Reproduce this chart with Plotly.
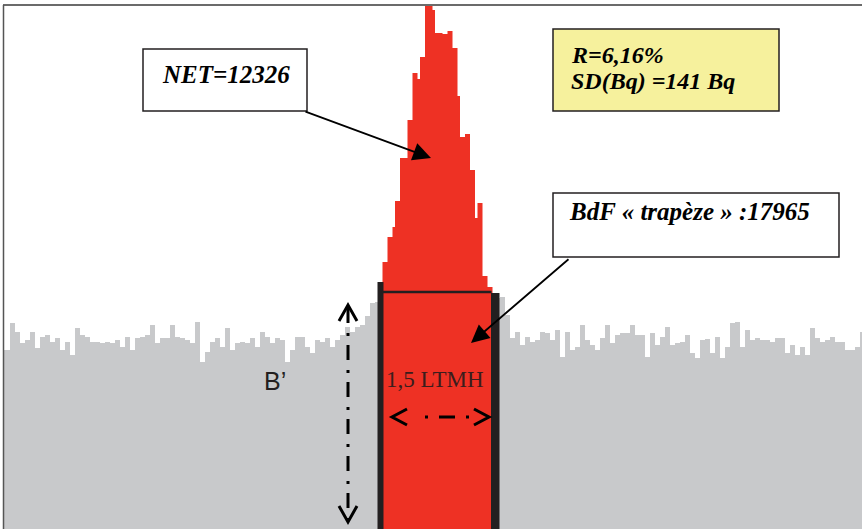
import plotly.graph_objects as go

# ---------------- data (counts per channel, arbitrary units) ----------------
# background spectrum, one value per channel (channels 0..172)
grey_left = [179, 179, 206, 197, 186, 189, 197, 181, 192, 194, 187, 191, 179, 187, 174, 201,
             194, 192, 187, 187, 186, 187, 186, 189, 182, 192, 179, 191, 192, 194, 204, 186,
             191, 191, 204, 192, 191, 189, 186, 207, 167, 177, 187, 191, 182, 201, 179, 186,
             187, 186, 191, 182, 197, 192, 186, 191, 189, 167, 179, 192, 192, 182, 176, 189,
             187, 191, 182, 189, 194, 202, 197, 202, 204, 213, 226, 227]
grey_under_peak = [228, 229, 230, 231, 232, 233, 234, 235, 236, 237, 238, 239,
                   239, 238, 237, 236, 235, 234, 233, 232, 231, 230, 230, 231]
grey_right = [232, 214, 191, 197, 184, 192, 187, 189, 197, 196, 189, 199, 172, 197, 179, 182,
              204, 189, 184, 179, 191, 204, 186, 194, 196, 196, 204, 194, 194, 172, 196, 184,
              192, 202, 184, 186, 187, 194, 176, 171, 189, 190, 176, 192, 171, 182, 206, 207,
              182, 199, 189, 191, 189, 189, 187, 191, 191, 176, 184, 174, 182, 174, 201, 191,
              187, 189, 192, 187, 187, 179, 179, 182, 197]
grey_counts = grey_left + grey_under_peak + grey_right

# net peak, half-channel bins starting at channel 76.5
peak_start = 76.5
peak_bin = 0.5
peak_counts = [267, 267, 292, 292, 302, 328, 328, 371, 371, 371, 409, 409, 456, 456, 450, 472,
               472, 523, 523, 523, 519, 496, 496, 496, 495, 495, 498, 498, 481, 481, 433, 392,
               392, 395, 395, 359, 359, 311, 326, 326, 253, 253, 242, 242]

# ROI limits (trapezoid background edges)
roi_left_ch, roi_left_h = 76.1, 247
roi_right_ch, roi_right_h = 99.05, 236
trapeze_level = 237

n_total = 172.4
W, H = 862, 529

GREY = "#c8c9cb"
RED = "#ee3124"
BLACK = "#231f20"


def X(px):
    return px / W


def Y(py):
    return 1 - py / H


fig = go.Figure()

# background
edges = list(range(len(grey_counts) + 1))
fig.add_trace(go.Scatter(x=edges, y=grey_counts + [grey_counts[-1]], mode="lines",
                         line=dict(width=0, shape="hv"), fill="tozeroy",
                         fillcolor=GREY, hoverinfo="skip"))
# peak
pedges = [peak_start + peak_bin * i for i in range(len(peak_counts) + 1)]
fig.add_trace(go.Scatter(x=pedges, y=peak_counts + [peak_counts[-1]], mode="lines",
                         line=dict(width=0, shape="hv"), fill="tozeroy",
                         fillcolor=RED, hoverinfo="skip"))
# ROI edges
for c, h, w in [(roi_left_ch, roi_left_h, 1.2), (roi_right_ch, roi_right_h, 1.7)]:
    fig.add_trace(go.Scatter(x=[c - w / 2, c + w / 2], y=[h, h], mode="lines",
                             line=dict(width=0), fill="tozeroy", fillcolor=BLACK,
                             hoverinfo="skip"))
# trapezoid top line
fig.add_trace(go.Scatter(x=[roi_left_ch + 0.25, roi_right_ch - 0.75],
                         y=[trapeze_level, trapeze_level], mode="lines",
                         line=dict(width=2.5, color=BLACK), hoverinfo="skip"))

shapes = []
# frame
shapes.append(dict(type="rect", xref="paper", yref="paper", x0=0, x1=X(3), y0=0, y1=1,
                   fillcolor="white", line=dict(width=0)))
shapes.append(dict(type="line", xref="paper", yref="paper", x0=X(3), x1=1, y0=Y(5), y1=Y(5),
                   line=dict(color="#3a3a3a", width=1.5)))
shapes.append(dict(type="line", xref="paper", yref="paper", x0=X(3.5), x1=X(3.5), y0=Y(5), y1=0,
                   line=dict(color="#555555", width=1.5)))
# boxes
for (x0, y0, x1, y1, fc) in [(143, 49, 307, 111, "white"),
                             (553, 29, 779, 111, "#f6f19d"),
                             (553, 193, 839, 257, "white")]:
    shapes.append(dict(type="rect", xref="paper", yref="paper", x0=X(x0), x1=X(x1),
                       y0=Y(y1), y1=Y(y0), fillcolor=fc, line=dict(color=BLACK, width=1.5)))

# dash-dot double arrows
shapes.append(dict(type="line", xref="paper", yref="paper", x0=X(348), x1=X(348),
                   y0=Y(308), y1=Y(520), line=dict(color="black", width=3,
                                                   dash="15px,10px,3px,9px")))
shapes.append(dict(type="line", xref="paper", yref="paper", x0=X(425), x1=X(470),
                   y0=Y(417), y1=Y(417), line=dict(color="black", width=3,
                                                   dash="3px,11px,16px,11px")))
# chevrons


def chevron(points):
    d = "M " + " L ".join(f"{X(a)} {Y(b)}" for a, b in points)
    return dict(type="path", xref="paper", yref="paper", path=d,
                line=dict(color="black", width=3))


shapes.append(chevron([(339, 321), (348, 305), (357, 321)]))
shapes.append(chevron([(339, 506), (348, 522), (357, 506)]))
shapes.append(chevron([(407, 409), (392, 417), (407, 425)]))
shapes.append(chevron([(474, 409), (489, 417), (474, 425)]))

ann = []
serif = "Liberation Serif"
ann.append(dict(xref="paper", yref="paper", x=X(160), y=Y(74), xanchor="left", yanchor="middle",
                text="<b><i>NET=12326</i></b>", showarrow=False,
                font=dict(family=serif, size=25, color="black")))
ann.append(dict(xref="paper", yref="paper", x=X(569), y=Y(55), xanchor="left", yanchor="middle",
                text="<b><i>R=6,16%</i></b>", showarrow=False,
                font=dict(family=serif, size=24, color="black")))
ann.append(dict(xref="paper", yref="paper", x=X(569), y=Y(81), xanchor="left", yanchor="middle",
                text="<b><i>SD(Bq) =141 Bq</i></b>", showarrow=False,
                font=dict(family=serif, size=24, color="black")))
ann.append(dict(xref="paper", yref="paper", x=X(567), y=Y(211), xanchor="left", yanchor="middle",
                text="<b><i>BdF « trapèze » :17965</i></b>", showarrow=False,
                font=dict(family=serif, size=25, color="black")))
ann.append(dict(xref="paper", yref="paper", x=X(435), y=Y(379), xanchor="center", yanchor="middle",
                text="1,5 LTMH", showarrow=False,
                font=dict(family=serif, size=23, color="#3b1d1d")))
ann.append(dict(xref="paper", yref="paper", x=X(262), y=Y(381), xanchor="left", yanchor="middle",
                text="B’", showarrow=False,
                font=dict(family="Liberation Sans", size=25, color=BLACK)))
# pointer arrows
ann.append(dict(xref="paper", yref="paper", x=X(431), y=Y(158), ax=-127, ay=-47, text="",
                showarrow=True, arrowhead=2, arrowsize=2, arrowwidth=1.8, arrowcolor="black"))
ann.append(dict(xref="paper", yref="paper", x=X(471), y=Y(343), ax=99, ay=-85, text="",
                showarrow=True, arrowhead=2, arrowsize=2, arrowwidth=1.8, arrowcolor="black"))

fig.update_layout(
    width=W, height=H, margin=dict(l=0, r=0, t=0, b=0),
    paper_bgcolor="white", plot_bgcolor="white", showlegend=False,
    xaxis=dict(range=[0, n_total], visible=False, fixedrange=True),
    yaxis=dict(range=[0, H], visible=False, fixedrange=True),
    shapes=shapes, annotations=ann,
)

fig.write_html("out.html", config={"displayModeBar": False, "staticPlot": True},
               post_script="document.body.style.margin='0';document.body.style.overflow='hidden';")
